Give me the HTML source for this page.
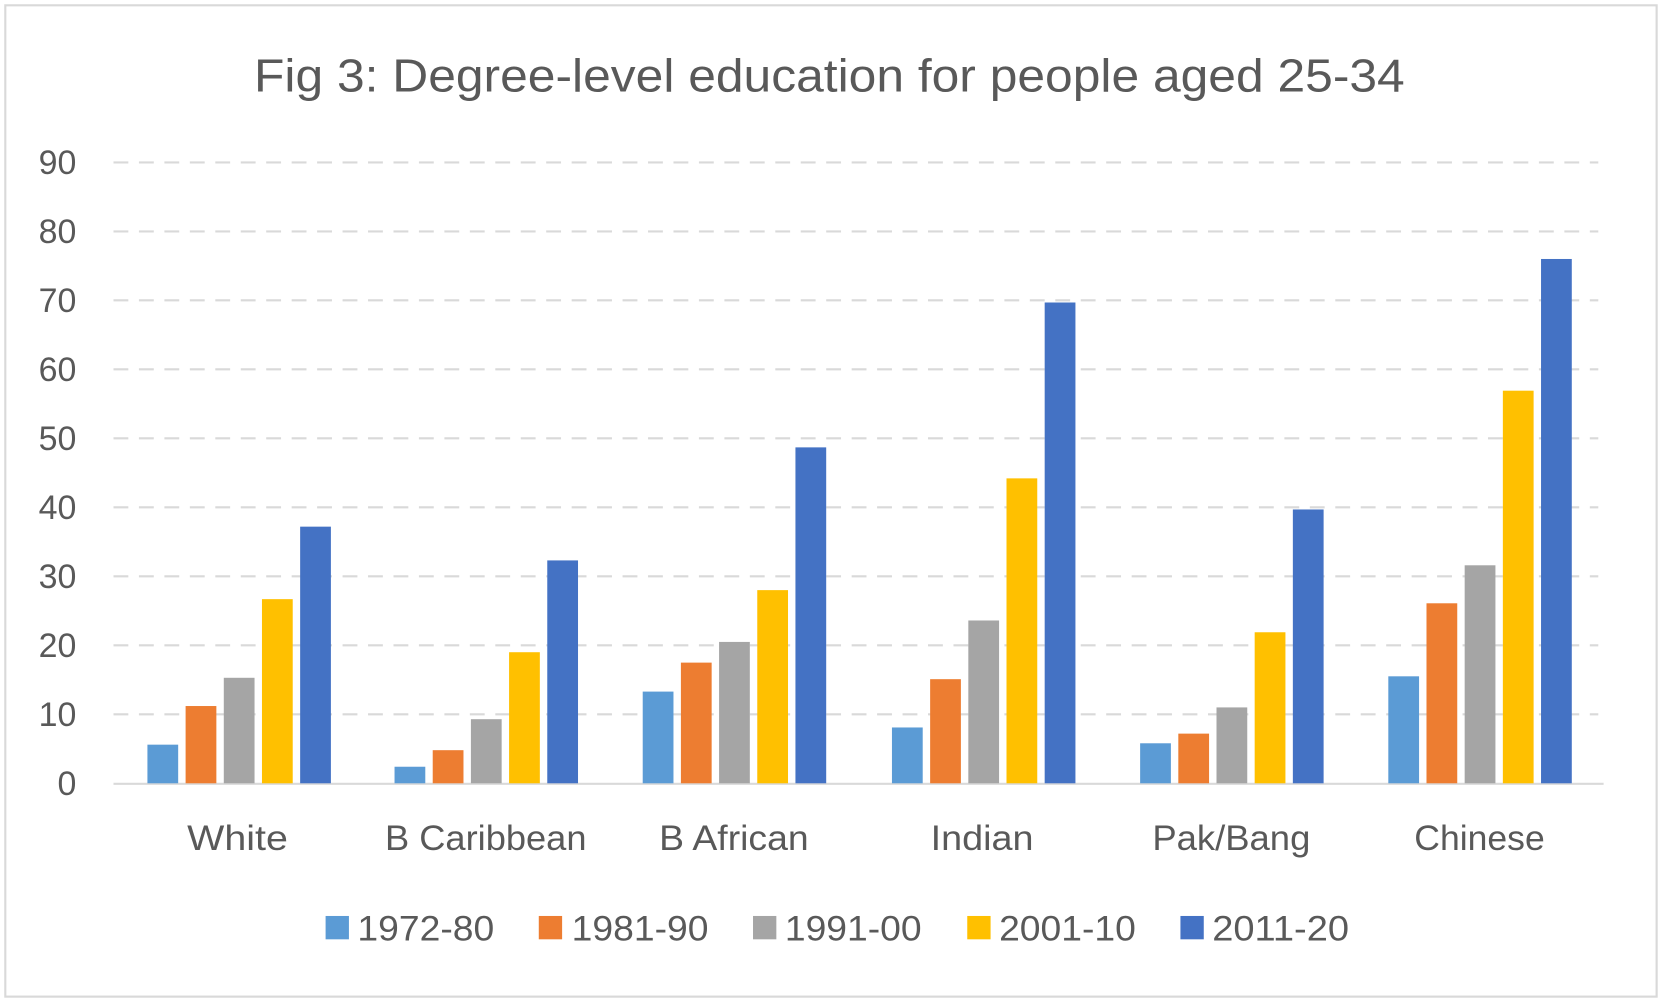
<!DOCTYPE html>
<html><head><meta charset="utf-8"><style>html,body{margin:0;padding:0;background:#fff}svg{display:block}</style></head>
<body>
<svg width="1663" height="1003" viewBox="0 0 1568 945" preserveAspectRatio="none" xmlns="http://www.w3.org/2000/svg" font-family="Liberation Sans, sans-serif" fill="#595959">
<rect x="5" y="5" width="1557" height="934" fill="#fff" stroke="#d9d9d9" stroke-width="2"/>
<text x="782" y="86" font-size="44" text-anchor="middle" textLength="1085" lengthAdjust="spacingAndGlyphs">Fig 3: Degree-level education for people aged 25-34</text>
<g stroke="#d9d9d9" stroke-width="2" stroke-dasharray="14,10">
<line x1="107" x2="1507" y1="153" y2="153"/><line x1="107" x2="1507" y1="218" y2="218"/>
<line x1="107" x2="1507" y1="283" y2="283"/><line x1="107" x2="1507" y1="348" y2="348"/>
<line x1="107" x2="1507" y1="413" y2="413"/><line x1="107" x2="1507" y1="478" y2="478"/>
<line x1="107" x2="1507" y1="543" y2="543"/><line x1="107" x2="1507" y1="608" y2="608"/>
<line x1="107" x2="1507" y1="673" y2="673"/>
</g>
<g font-size="32" text-anchor="end">
<text x="72" y="164">90</text><text x="72" y="229">80</text><text x="72" y="294">70</text>
<text x="72" y="359">60</text><text x="72" y="424">50</text><text x="72" y="489">40</text>
<text x="72" y="554">30</text><text x="72" y="619">20</text><text x="72" y="684">10</text>
<text x="72" y="749">0</text>
</g>
<line x1="107" x2="1512" y1="738.5" y2="738.5" stroke="#d9d9d9" stroke-width="2"/>
<g font-size="33" text-anchor="middle">
<text x="224" y="801" textLength="95" lengthAdjust="spacingAndGlyphs">White</text>
<text x="458" y="801" textLength="190" lengthAdjust="spacingAndGlyphs">B Caribbean</text>
<text x="692" y="801" textLength="141" lengthAdjust="spacingAndGlyphs">B African</text>
<text x="926" y="801" textLength="97" lengthAdjust="spacingAndGlyphs">Indian</text>
<text x="1161" y="801" textLength="149" lengthAdjust="spacingAndGlyphs">Pak/Bang</text>
<text x="1395" y="801" textLength="123" lengthAdjust="spacingAndGlyphs">Chinese</text>
</g>
<g font-size="33">
<rect x="307" y="863" width="22" height="22" fill="#5B9BD5"/><text x="337" y="886" textLength="129" lengthAdjust="spacingAndGlyphs">1972-80</text>
<rect x="508" y="863" width="22" height="22" fill="#ED7D31"/><text x="539" y="886" textLength="129" lengthAdjust="spacingAndGlyphs">1981-90</text>
<rect x="710" y="863" width="22" height="22" fill="#A5A5A5"/><text x="740" y="886" textLength="129" lengthAdjust="spacingAndGlyphs">1991-00</text>
<rect x="912" y="863" width="22" height="22" fill="#FFC000"/><text x="942" y="886" textLength="129" lengthAdjust="spacingAndGlyphs">2001-10</text>
<rect x="1113" y="863" width="22" height="22" fill="#4472C4"/><text x="1143" y="886" textLength="129" lengthAdjust="spacingAndGlyphs">2011-20</text>
</g>
<g>
<rect x="139" y="701.6" width="29" height="36.4" fill="#5B9BD5"/>
<rect x="175" y="665.2" width="29" height="72.8" fill="#ED7D31"/>
<rect x="211" y="638.6" width="29" height="99.4" fill="#A5A5A5"/>
<rect x="247" y="564.5" width="29" height="173.5" fill="#FFC000"/>
<rect x="283" y="496.2" width="29" height="241.8" fill="#4472C4"/>

<rect x="372" y="722.4" width="29" height="15.6" fill="#5B9BD5"/>
<rect x="408" y="706.8" width="29" height="31.2" fill="#ED7D31"/>
<rect x="444" y="677.6" width="29" height="60.4" fill="#A5A5A5"/>
<rect x="480" y="614.5" width="29" height="123.5" fill="#FFC000"/>
<rect x="516" y="528.0" width="29" height="210.0" fill="#4472C4"/>

<rect x="606" y="651.6" width="29" height="86.4" fill="#5B9BD5"/>
<rect x="642" y="624.3" width="29" height="113.7" fill="#ED7D31"/>
<rect x="678" y="604.8" width="29" height="133.2" fill="#A5A5A5"/>
<rect x="714" y="556.0" width="29" height="182.0" fill="#FFC000"/>
<rect x="750" y="421.5" width="29" height="316.5" fill="#4472C4"/>

<rect x="841" y="685.4" width="29" height="52.6" fill="#5B9BD5"/>
<rect x="877" y="639.9" width="29" height="98.1" fill="#ED7D31"/>
<rect x="913" y="584.6" width="29" height="153.4" fill="#A5A5A5"/>
<rect x="949" y="450.7" width="29" height="287.3" fill="#FFC000"/>
<rect x="985" y="285.0" width="29" height="453.0" fill="#4472C4"/>

<rect x="1075" y="700.3" width="29" height="37.7" fill="#5B9BD5"/>
<rect x="1111" y="691.2" width="29" height="46.8" fill="#ED7D31"/>
<rect x="1147" y="666.5" width="29" height="71.5" fill="#A5A5A5"/>
<rect x="1183" y="595.7" width="29" height="142.3" fill="#FFC000"/>
<rect x="1219" y="480.0" width="29" height="258.0" fill="#4472C4"/>

<rect x="1309" y="637.2" width="29" height="100.8" fill="#5B9BD5"/>
<rect x="1345" y="568.4" width="29" height="169.6" fill="#ED7D31"/>
<rect x="1381" y="532.6" width="29" height="205.4" fill="#A5A5A5"/>
<rect x="1417" y="368.1" width="29" height="369.9" fill="#FFC000"/>
<rect x="1453" y="244.0" width="29" height="494.0" fill="#4472C4"/>
</g>
</svg>
</body></html>
